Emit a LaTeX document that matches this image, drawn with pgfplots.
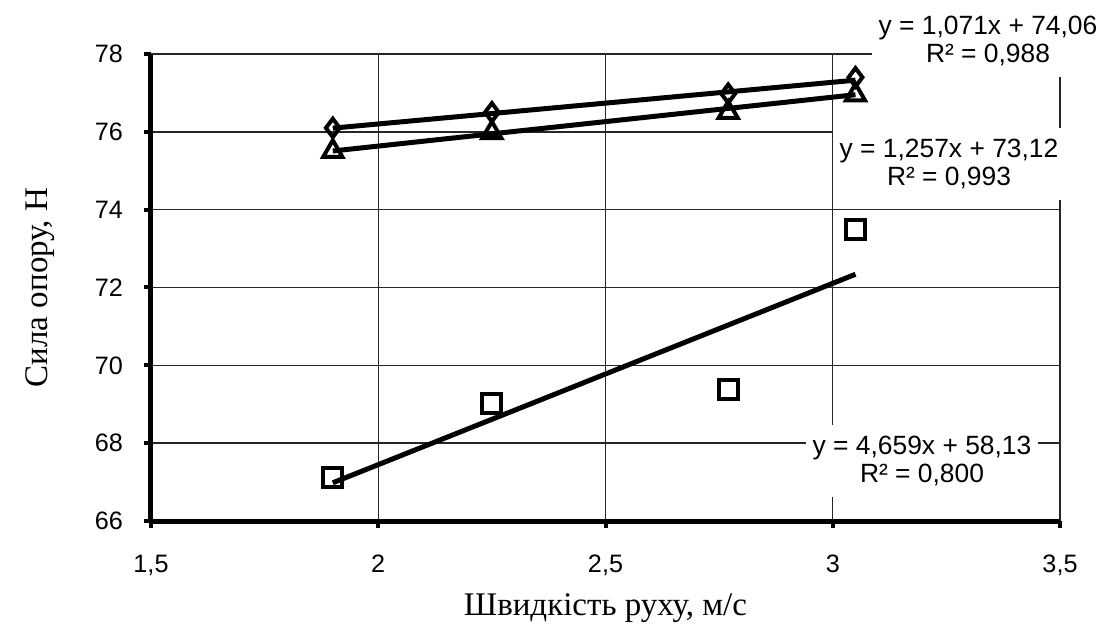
\documentclass[border=0pt]{standalone}
\usepackage{fontspec}
\setmainfont{Liberation Sans}
\newfontfamily\tnr{Liberation Serif}
\usepackage{pgfplots}
\pgfplotsset{compat=1.18}

\begin{document}
\begin{tikzpicture}
% page frame: 1 px of the reference = 0.5pt
\useasboundingbox (-75.5pt,-52.5pt) rectangle (475pt,260.5pt);
\begin{axis}[
    scale only axis,
    width=454.5pt, height=233.5pt,
    xmin=1.5, xmax=3.5, ymin=66, ymax=78,
    xtick={1.5,2,2.5,3,3.5},
    ytick={66,68,70,72,74,76,78},
    axis x line=bottom, axis y line=left,
    axis line style={-, line width=2.5pt},
    tick align=outside,
    major tick length=3.5pt,
    tick style={line width=2pt, black},
    grid=major,
    major grid style={black!85, line width=0.7pt},
    /pgf/number format/use comma,
    /pgf/number format/assume math mode=true,
    ticklabel style={font=\fontsize{12.6}{14}\selectfont},
    xticklabel style={yshift=-10pt},
    yticklabel style={xshift=-7pt},
    xlabel={Швидкість руху, м/с},
    ylabel={Сила опору, Н},
    xlabel style={font=\fontsize{16.5}{18}\selectfont\tnr, at={(axis description cs:0.5,-0.186)}, anchor=center},
    ylabel style={font=\fontsize{16.5}{18}\selectfont\tnr, at={(axis description cs:-0.122,0.5)}, anchor=center},
    clip=false,
]
% measured points
\addplot[only marks, mark=diamond, mark size=4.6pt, mark options={line width=2pt, black}]
    coordinates {(1.9,76.1) (2.25,76.5) (2.77,76.98) (3.05,77.4)};
\addplot[only marks, mark=triangle, mark size=5.5pt, mark options={line width=2pt, black}]
    coordinates {(1.9,75.5) (2.25,75.98) (2.77,76.5) (3.05,76.95)};
\addplot[only marks, mark=square, mark size=4.7pt, mark options={line width=2pt, black}]
    coordinates {(1.9,67.12) (2.25,69.02) (2.77,69.37) (3.05,73.5)};

% linear trendlines (end points from the printed equations)
\addplot[black, line width=2.5pt] coordinates {(1.9,76.095) (3.05,77.327)};
\addplot[black, line width=2.5pt] coordinates {(1.9,75.508) (3.05,76.954)};
\addplot[black, line width=2.5pt] coordinates {(1.9,66.982) (3.05,72.340)};

% equation labels
\tikzset{eq/.style={fill=white, align=center, inner xsep=3.5pt, inner ysep=5.5pt,
    font=\fontsize{13.2}{14}\selectfont}}
\node[eq] at (axis cs:3.3416,78.334) {y = 1,071x + 74,06\\R² = 0,988};
\node[eq] at (axis cs:3.2558,75.173) {y = 1,257x + 73,12\\R² = 0,993};
\node[eq] at (axis cs:3.1964,67.54) {y = 4,659x + 58,13\\R² = 0,800};
\end{axis}
\end{tikzpicture}
\end{document}
